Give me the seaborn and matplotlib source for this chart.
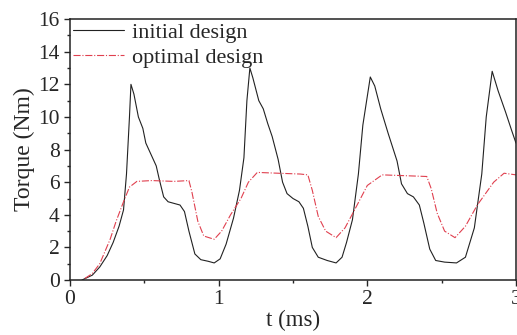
import matplotlib
matplotlib.use('Agg')
import matplotlib.pyplot as plt
from matplotlib.ticker import MultipleLocator
import seaborn as sns
import pandas as pd

# torque curves
t_initial = [0.08, 0.15, 0.2, 0.25, 0.29, 0.33, 0.36, 0.38, 0.40, 0.41, 0.43, 0.46, 0.49,
             0.51, 0.55, 0.58, 0.6, 0.63, 0.66, 0.7, 0.74, 0.77, 0.8, 0.84, 0.88, 0.93,
             0.97, 1.01, 1.05, 1.1, 1.14, 1.17, 1.19, 1.21, 1.23, 1.27, 1.3, 1.33, 1.36,
             1.40, 1.43, 1.46, 1.5, 1.54, 1.57, 1.6, 1.63, 1.67, 1.73, 1.79, 1.83, 1.86,
             1.9, 1.94, 1.97, 2.02, 2.05, 2.09, 2.14, 2.2, 2.23, 2.27, 2.31, 2.35, 2.38,
             2.42, 2.46, 2.52, 2.6, 2.66, 2.72, 2.77, 2.8, 2.84, 2.88, 2.93, 2.97, 3.0]
torque_initial = [0.0, 0.3, 0.8, 1.5, 2.3, 3.3, 4.3, 6.5, 10.0, 12.0, 11.4, 10.0, 9.3,
                  8.4, 7.6, 7.0, 6.2, 5.1, 4.8, 4.7, 4.6, 4.2, 3.0, 1.6, 1.25, 1.15,
                  1.05, 1.3, 2.2, 3.8, 5.5, 7.5, 11.0, 13.0, 12.4, 11.0, 10.5, 9.6, 8.8,
                  7.4, 6.0, 5.3, 5.0, 4.8, 4.4, 3.3, 2.0, 1.4, 1.2, 1.05, 1.4, 2.3,
                  3.7, 6.5, 9.5, 12.45, 11.9, 10.5, 9.0, 7.3, 5.9, 5.3, 5.1, 4.6, 3.5,
                  1.9, 1.2, 1.1, 1.05, 1.4, 3.2, 6.5, 10.0, 12.8, 11.6, 10.3, 9.2, 8.4]

t_optimal = [0.1, 0.15, 0.2, 0.27, 0.31, 0.36, 0.4, 0.45, 0.55, 0.7, 0.8, 0.82, 0.86,
             0.9, 0.97, 1.02, 1.08, 1.15, 1.2, 1.26, 1.4, 1.55, 1.6, 1.63, 1.67, 1.72,
             1.79, 1.85, 1.92, 2.0, 2.1, 2.25, 2.4, 2.43, 2.47, 2.52, 2.59, 2.66, 2.74,
             2.85, 2.92, 3.0]
torque_optimal = [0.1, 0.4, 1.0, 2.5, 3.6, 4.8, 5.7, 6.05, 6.1, 6.05, 6.1, 5.4, 3.6,
                  2.7, 2.5, 3.0, 4.0, 5.0, 6.0, 6.6, 6.55, 6.5, 6.45, 5.5, 3.9, 3.0,
                  2.6, 3.2, 4.4, 5.8, 6.45, 6.4, 6.35, 5.6, 4.1, 3.0, 2.6, 3.3, 4.6,
                  6.0, 6.55, 6.45]

df_init = pd.DataFrame({'t': t_initial, 'torque': torque_initial})
df_opt = pd.DataFrame({'t': t_optimal, 'torque': torque_optimal})

sns.set_style('ticks')
plt.rcParams['font.family'] = ['Liberation Serif', 'DejaVu Serif']

fig = plt.figure(figsize=(5.17, 3.35), dpi=100)
ax = fig.add_axes([0.1354, 0.164, 0.8626, 0.779])

sns.lineplot(data=df_init, x='t', y='torque', ax=ax, color='#222222', lw=0.8,
             sort=False, label='initial design')
sns.lineplot(data=df_opt, x='t', y='torque', ax=ax, color='#e0404f', lw=0.8,
             linestyle='-.', sort=False, label='optimal design')

ax.set_xlim(0, 3)
ax.set_ylim(0, 16)
ax.xaxis.set_major_locator(MultipleLocator(1))
ax.xaxis.set_minor_locator(MultipleLocator(0.5))
ax.yaxis.set_major_locator(MultipleLocator(2))
ax.yaxis.set_minor_locator(MultipleLocator(1))
ax.tick_params(which='major', direction='out', length=4, width=1, labelsize=15.5, pad=3.5)
ax.tick_params(which='minor', direction='out', length=2.5, width=1)
for s in ax.spines.values():
    s.set_visible(True)
    s.set_linewidth(1.1)
    s.set_color('#222222')

ax.set_xlabel('t (ms)', fontsize=16.5, labelpad=0)
ax.set_ylabel('Torque (Nm)', fontsize=17, labelpad=2)

leg = ax.legend(loc='upper left', frameon=False, fontsize=16, handlelength=2.3,
                handletextpad=0.35, borderaxespad=0.1, labelspacing=0.2,
                borderpad=0.05)

fig.savefig('out.png', dpi=100)
